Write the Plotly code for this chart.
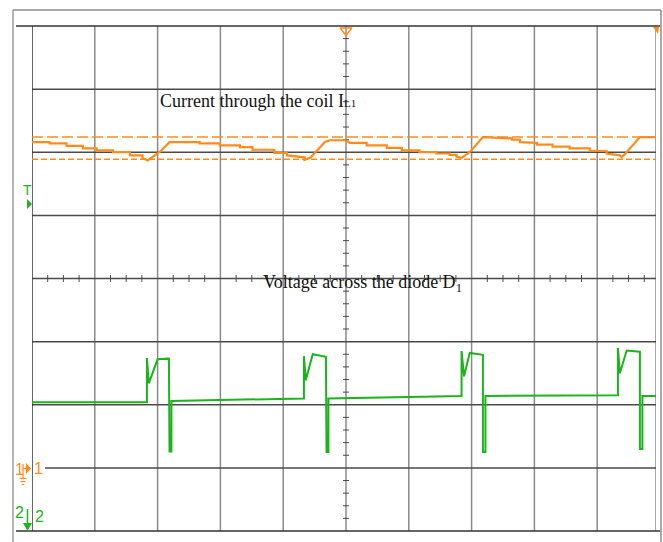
import plotly.graph_objects as go

# Scope capture: 10 x 8 divisions, all values in screen divisions.
# CH1 (orange): inductor current I_L1
cur_t = [0.00, 0.28, 0.28, 0.55, 0.55, 0.81, 0.81, 1.03, 1.03, 1.29, 1.29, 1.56, 1.56, 1.76, 1.76, 1.84,
         2.03, 2.19, 2.67, 2.67, 2.99, 2.99, 3.31, 3.31, 3.51, 3.51, 3.86, 3.86, 4.06, 4.06, 4.34, 4.34,
         4.44, 4.66, 4.74, 5.00, 5.06, 5.33, 5.33, 5.65, 5.65, 5.89, 5.89, 6.17, 6.17, 6.44, 6.44,
         6.65, 6.65, 6.76, 6.76, 6.84, 6.97, 7.18, 7.64, 7.64, 7.77, 7.77, 8.04, 8.04, 8.29, 8.29,
         8.56, 8.56, 8.88, 8.88, 9.15, 9.15, 9.36, 9.39, 9.44, 9.68, 9.99]
cur_v = [2.16, 2.16, 2.14, 2.14, 2.10, 2.10, 2.06, 2.06, 2.03, 2.03, 2.00, 2.00, 1.95, 1.95, 1.91, 1.87,
         2.00, 2.16, 2.16, 2.14, 2.14, 2.11, 2.11, 2.08, 2.08, 2.04, 2.04, 1.99, 1.99, 1.95, 1.92, 1.88,
         1.92, 2.16, 2.19, 2.19, 2.15, 2.15, 2.11, 2.11, 2.07, 2.07, 2.03, 2.03, 2.00, 2.00, 1.98,
         1.98, 1.96, 1.96, 1.93, 1.91, 2.00, 2.24, 2.22, 2.20, 2.20, 2.16, 2.15, 2.12, 2.12, 2.09,
         2.09, 2.06, 2.06, 2.02, 2.02, 1.98, 1.95, 1.92, 1.97, 2.24, 2.24]

# Horizontal cursors on CH1
cursor_hi = 2.24
cursor_lo = 1.89

# CH2 (green): voltage across diode D1
vd_t = [0.00, 1.83, 1.83, 1.86, 2.00, 2.18, 2.19, 2.22, 2.22,
        4.33, 4.33, 4.36, 4.47, 4.68, 4.69, 4.72, 4.72,
        6.84, 6.84, 6.88, 6.97, 7.18, 7.18, 7.22, 7.22,
        9.33, 9.33, 9.36, 9.47, 9.68, 9.68, 9.72, 9.72, 9.99]
vd_v = [-1.96, -1.96, -1.26, -1.66, -1.28, -1.27, -2.74, -2.74, -1.94,
        -1.90, -1.23, -1.61, -1.20, -1.24, -2.75, -2.75, -1.90,
        -1.86, -1.15, -1.55, -1.18, -1.21, -2.75, -2.75, -1.86,
        -1.85, -1.10, -1.50, -1.14, -1.16, -2.70, -2.70, -1.86, -1.86]

ORANGE = "#ff8c1a"
GREEN = "#1db31d"

W, H = 663, 542
L, R, T, B = 32, 7, 26, 11
PW, PH = W - L - R, H - T - B
X_DIV = 62.8
XMAX = PW / X_DIV


def px(x):
    return (x - L) / PW


def py(y):
    return (H - B - y) / PH


fig = go.Figure()

# cursors
fig.add_trace(go.Scatter(x=[0, XMAX], y=[cursor_hi, cursor_hi], mode="lines",
                         line=dict(color=ORANGE, width=1.5, dash="11px,4px"), hoverinfo="skip"))
fig.add_trace(go.Scatter(x=[0, XMAX], y=[cursor_lo, cursor_lo], mode="lines",
                         line=dict(color=ORANGE, width=1.5, dash="6px,3px"), hoverinfo="skip"))
# waveforms
fig.add_trace(go.Scatter(x=cur_t, y=cur_v, mode="lines", line=dict(color=ORANGE, width=2.2)))
fig.add_trace(go.Scatter(x=vd_t, y=vd_v, mode="lines", line=dict(color=GREEN, width=2)))

# trigger position marker
fig.add_trace(go.Scatter(x=[5.0], y=[3.93], mode="markers",
                         marker=dict(symbol="triangle-down-open", size=10, color=ORANGE, line=dict(width=1.5))))

shapes = []
# graticule
for k in range(1, 10):
    shapes.append(dict(type="line", xref="x", yref="y", x0=k, x1=k, y0=-4, y1=4,
                       line=dict(color="#8a8a8a", width=1.5), layer="below"))
shapes.append(dict(type="line", xref="x", yref="y", x0=XMAX, x1=XMAX, y0=-4, y1=4,
                   line=dict(color="#8a8a8a", width=1.5), layer="below"))
for k in range(-3, 4):
    x0 = (45 - L) / X_DIV if k == -3 else 0
    shapes.append(dict(type="line", xref="x", yref="y", x0=x0, x1=XMAX, y0=k, y1=k,
                       line=dict(color="#4a4a4a", width=1.5), layer="below"))
shapes.append(dict(type="line", xref="x", yref="y", x0=0, x1=0, y0=-4, y1=4,
                   line=dict(color="#333333", width=1.5), layer="below"))
for yy in (26, 531):
    shapes.append(dict(type="line", xref="paper", yref="paper", x0=px(16), x1=px(660), y0=py(yy), y1=py(yy),
                       line=dict(color="#333333", width=1.5)))
# outer frame
shapes.append(dict(type="line", xref="paper", yref="paper", x0=px(13), x1=px(13), y0=py(10), y1=py(545),
                   line=dict(color="#b4b4b4", width=2)))
shapes.append(dict(type="line", xref="paper", yref="paper", x0=px(13), x1=px(661), y0=py(10), y1=py(10),
                   line=dict(color="#8c8c8c", width=1.5)))
shapes.append(dict(type="line", xref="paper", yref="paper", x0=px(661), x1=px(661), y0=py(10), y1=py(545),
                   line=dict(color="#8c8c8c", width=1.5)))

# centre-axis minor ticks
k = 1
while k * 0.25 < XMAX:
    xv = k * 0.25
    if k % 4:
        shapes.append(dict(type="line", xref="x", yref="y", x0=xv, x1=xv, y0=-0.055, y1=0.055,
                           line=dict(color="#4a4a4a", width=1), layer="below"))
    k += 1
for k in range(-19, 20):
    if k % 5:
        yv = k * 0.2
        shapes.append(dict(type="line", xref="x", yref="y", x0=5 - 0.048, x1=5 + 0.048, y0=yv, y1=yv,
                           line=dict(color="#4a4a4a", width=1), layer="below"))

# top-right trigger marker
shapes.append(dict(type="path", xref="paper", yref="paper",
                   path=f"M {px(653)},{py(27)} L {px(659)},{py(27)} L {px(658)},{py(34)} Z",
                   fillcolor=ORANGE, line=dict(width=0)))
# trigger level arrow (left)
shapes.append(dict(type="path", xref="paper", yref="paper",
                   path=f"M {px(27)},{py(199)} L {px(32)},{py(204)} L {px(27)},{py(209)} Z",
                   fillcolor=GREEN, line=dict(width=0)))
# CH1 ground reference marker
shapes.append(dict(type="line", xref="paper", yref="paper", x0=px(23), x1=px(27), y0=py(468.5), y1=py(468.5),
                   line=dict(color=ORANGE, width=1.5)))
shapes.append(dict(type="path", xref="paper", yref="paper",
                   path=f"M {px(26)},{py(463)} L {px(31)},{py(468.5)} L {px(26)},{py(474)} Z",
                   fillcolor=ORANGE, line=dict(width=0)))
shapes.append(dict(type="line", xref="paper", yref="paper", x0=px(23), x1=px(23), y0=py(464), y1=py(478),
                   line=dict(color=ORANGE, width=1.2)))
for yy, hw in ((478.5, 3.5), (481.5, 2.5), (484.5, 1.2)):
    shapes.append(dict(type="line", xref="paper", yref="paper", x0=px(23 - hw), x1=px(23 + hw),
                       y0=py(yy), y1=py(yy), line=dict(color=ORANGE, width=1.2)))
# CH2 ground reference marker
shapes.append(dict(type="line", xref="paper", yref="paper", x0=px(27.5), x1=px(27.5), y0=py(509), y1=py(524),
                   line=dict(color=GREEN, width=1.5)))
shapes.append(dict(type="path", xref="paper", yref="paper",
                   path=f"M {px(23)},{py(523)} L {px(32)},{py(523)} L {px(27.5)},{py(531)} Z",
                   fillcolor=GREEN, line=dict(width=0)))


def label(text, x, y, color, size=15, family="Liberation Sans", xanchor="center"):
    return dict(text=text, x=px(x), y=py(y), xref="paper", yref="paper",
                xanchor=xanchor, yanchor="middle", showarrow=False, borderpad=0,
                font=dict(family=family, size=size, color=color))


annotations = [
    label("Current through the coil I<span style='font-size:11px'>L1</span>", 159, 101, "#111111", 18,
          "Liberation Serif", "left"),
    label("Voltage across the diode D<sub>1</sub>", 262, 283, "#111111", 18, "Liberation Serif", "left"),
    label("T", 27, 190, GREEN, 14),
    label("1", 19, 469, ORANGE, 16),
    label("1", 38.5, 468, ORANGE, 16),
    label("2", 19.5, 512, GREEN, 16),
    label("2", 39.5, 516, GREEN, 16),
]

fig.update_layout(
    width=W, height=H,
    margin=dict(l=L, r=R, t=T, b=B),
    paper_bgcolor="white", plot_bgcolor="white",
    showlegend=False,
    shapes=shapes, annotations=annotations,
    xaxis=dict(range=[0, XMAX], showgrid=False, zeroline=False, showticklabels=False, ticks="", fixedrange=True),
    yaxis=dict(range=[-4, 4], showgrid=False, zeroline=False, showticklabels=False, ticks="", fixedrange=True),
)

fig.write_html("out.html", config={"displayModeBar": False})
